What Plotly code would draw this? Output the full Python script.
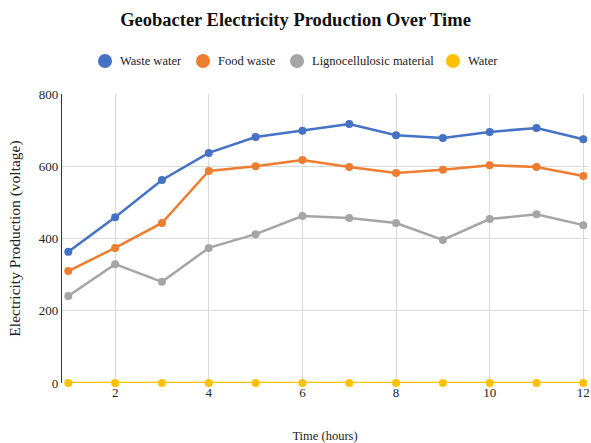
import plotly.graph_objects as go

hours = [1, 2, 3, 4, 5, 6, 7, 8, 9, 10, 11, 12]
waste_water = [363, 459, 562, 637, 681, 698, 717, 686, 678, 695, 706, 675]
food_waste = [310, 374, 443, 587, 600, 617, 598, 581, 590, 603, 598, 573]
ligno = [241, 329, 280, 374, 412, 462, 457, 443, 396, 454, 467, 437]
water = [0, 0, 0, 0, 0, 0, 0, 0, 0, 0, 0, 0]

series = [
    ("Waste water", waste_water, "#4472c4"),
    ("Food waste", food_waste, "#ed7d31"),
    ("Lignocellulosic material", ligno, "#a5a5a5"),
    ("Water", water, "#ffc000"),
]

W, H = 591, 443
ML, MR, MT, MB = 62, 3, 94, 60
PW, PH = W - ML - MR, H - MT - MB

def px2paper_x(px):
    return (px - ML) / PW

def px2paper_y(py):
    return (H - MB - py) / PH

font_family = "Liberation Serif"
fig = go.Figure()
for name, vals, col in series:
    fig.add_trace(go.Scatter(
        x=hours, y=vals, mode="lines+markers", name=name,
        line=dict(color=col, width=2.5),
        marker=dict(color=col, size=8),
        showlegend=False, cliponaxis=False,
    ))

# custom legend (dot + label), laid out like the reference
legend_dot_px = [105, 203, 297, 453]
legend_y_px = 61
shapes = []
annotations = []
for (name, vals, col), dx in zip(series, legend_dot_px):
    cx = px2paper_x(dx)
    cy = px2paper_y(legend_y_px)
    shapes.append(dict(type="circle", xref="paper", yref="paper",
                       xsizemode="pixel", ysizemode="pixel",
                       xanchor=cx, yanchor=cy, x0=-7, x1=7, y0=-7, y1=7,
                       fillcolor=col, line=dict(width=0)))
    annotations.append(dict(text=name, xref="paper", yref="paper",
                            x=px2paper_x(dx + 13), y=cy, xanchor="left", yanchor="middle",
                            showarrow=False, font=dict(size=12.5, color="#222", family=font_family)))

fig.update_layout(
    width=W, height=H,
    margin=dict(l=ML, r=MR, t=MT, b=MB, autoexpand=False),
    paper_bgcolor="white", plot_bgcolor="white",
    font=dict(family=font_family, color="#222", size=13),
    showlegend=False,
    title=dict(text="<b>Geobacter Electricity Production Over Time</b>",
               x=0.5, xanchor="center", y=0.955, yanchor="middle",
               font=dict(size=18.5, color="#111", family=font_family)),
    shapes=shapes,
    annotations=annotations,
    xaxis=dict(range=[0.865, 12.1], tickvals=[2, 4, 6, 8, 10, 12],
               showgrid=True, gridcolor="#d9d9d9", gridwidth=1,
               zeroline=False, showline=False, ticks="", automargin=False,
               tickfont=dict(size=13),
               title=dict(text="Time (hours)", font=dict(size=12.5), standoff=33)),
    yaxis=dict(range=[0, 800], tickvals=[0, 200, 400, 600, 800],
               showgrid=True, gridcolor="#d9d9d9", gridwidth=1,
               zeroline=False, showline=True, linecolor="#333", linewidth=1.2,
               ticks="", tickfont=dict(size=13), automargin=False,
               title=dict(text="Electricity Production (voltage)", font=dict(size=15.5), standoff=14)),
)
fig.write_html("out.html")
